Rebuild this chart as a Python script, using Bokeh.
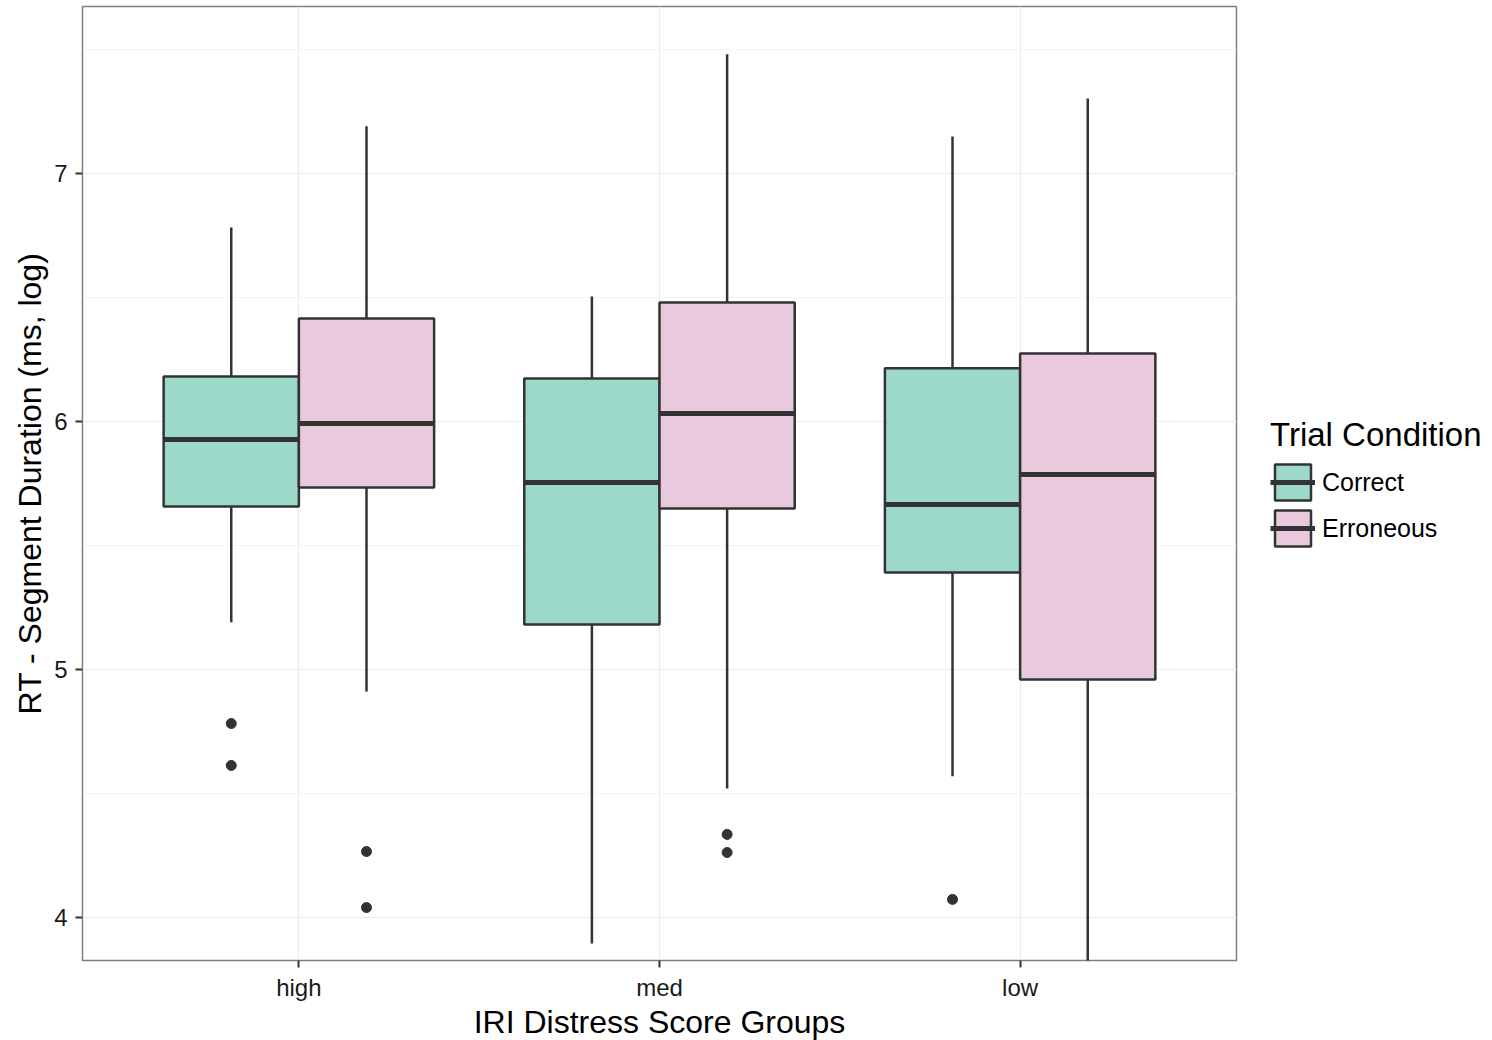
from bokeh.plotting import figure
from bokeh.models import (ColumnDataSource, FactorRange, Range1d, Legend, LegendItem,
                          SingleIntervalTicker)
from bokeh.transform import dodge
from bokeh.embed import file_html
from bokeh.resources import INLINE

groups = ["high", "med", "low"]
conditions = ["Correct", "Erroneous"]
fill_colors = ["#99d8c9", "#e8c7dc"]

# values per group (high, med, low)
correct_lower = [5.19, 3.895, 4.569]
correct_q1 = [5.657, 5.181, 5.391]
correct_median = [5.927, 5.754, 5.665]
correct_q3 = [6.181, 6.173, 6.214]
correct_upper = [6.782, 6.504, 7.149]
correct_outlier_group = ["high", "high", "low"]
correct_outlier_value = [4.782, 4.613, 4.073]

erroneous_lower = [4.911, 4.520, 3.75]
erroneous_q1 = [5.734, 5.649, 4.960]
erroneous_median = [5.992, 6.032, 5.786]
erroneous_q3 = [6.415, 6.480, 6.274]
erroneous_upper = [7.19, 7.48, 7.302]
erroneous_outlier_group = ["high", "high", "med", "med"]
erroneous_outlier_value = [4.266, 4.040, 4.335, 4.262]

y_ticks = [4, 5, 6, 7]

FONT = "Liberation Sans"
DARK = "#333333"

p = figure(x_range=FactorRange(*groups, range_padding=0.1, range_padding_units="absolute"),
           y_range=Range1d(3.8266, 7.673),
           frame_width=1154, frame_height=954,
           min_border_left=82, min_border_top=6, min_border_bottom=72, min_border_right=8,
           output_backend="svg", toolbar_location=None,
           background_fill_color="white", border_fill_color="white")

half = 0.1875
series = [
    ("Correct", -half, fill_colors[0], correct_lower, correct_q1, correct_median, correct_q3,
     correct_upper, correct_outlier_group, correct_outlier_value),
    ("Erroneous", half, fill_colors[1], erroneous_lower, erroneous_q1, erroneous_median,
     erroneous_q3, erroneous_upper, erroneous_outlier_group, erroneous_outlier_value),
]

legend_items = []
for name, off, col, lo, q1, med, q3, up, og, ov in series:
    src = ColumnDataSource(dict(g=groups, lower=lo, q1=q1, med=med, q3=q3, upper=up))
    xc = dodge("g", off, range=p.x_range)
    xl = dodge("g", off - half, range=p.x_range)
    xr = dodge("g", off + half, range=p.x_range)
    p.segment(x0=xc, y0="q3", x1=xc, y1="upper", source=src, line_color=DARK, line_width=2.5)
    p.segment(x0=xc, y0="q1", x1=xc, y1="lower", source=src, line_color=DARK, line_width=2.5)
    box = p.vbar(x=xc, width=2 * half, bottom="q1", top="q3", source=src,
                 fill_color=col, fill_alpha=0.97, line_color=DARK, line_width=2.5)
    medr = p.segment(x0=xl, y0="med", x1=xr, y1="med", source=src, line_color=DARK, line_width=5)
    osrc = ColumnDataSource(dict(g=og, v=ov))
    p.scatter(x=xc, y="v", source=osrc, size=10, color=DARK)
    legend_items.append(LegendItem(label=name, renderers=[box, medr]))

legend = Legend(items=legend_items, title="Trial Condition", location="center_left")
legend.title_text_font = FONT
legend.title_text_font_size = "33px"
legend.title_text_font_style = "normal"
legend.title_text_color = "black"
legend.title_standoff = 6
legend.label_text_font = FONT
legend.label_text_font_size = "25px"
legend.label_text_color = "black"
legend.glyph_width = 45
legend.glyph_height = 45
legend.spacing = 1
legend.label_standoff = 7
legend.border_line_color = None
legend.background_fill_alpha = 0
legend.margin = 34
legend.padding = 0
p.add_layout(legend, "right")

# grids
p.ygrid.ticker = SingleIntervalTicker(interval=1, num_minor_ticks=2)
p.yaxis.ticker = y_ticks
p.ygrid.grid_line_color = "#ebebeb"
p.ygrid.grid_line_width = 1.2
p.ygrid.minor_grid_line_color = "#f4f4f4"
p.ygrid.minor_grid_line_width = 1
p.xgrid.grid_line_color = "#ebebeb"
p.xgrid.grid_line_width = 1.2

p.outline_line_color = "#7f7f7f"
p.outline_line_width = 1.5

for ax in (p.xaxis[0], p.yaxis[0]):
    ax.axis_line_color = None
    ax.major_tick_line_color = DARK
    ax.major_tick_line_width = 2
    ax.major_tick_in = 0
    ax.major_tick_out = 7
    ax.minor_tick_line_color = None
    ax.major_label_text_font = FONT
    ax.major_label_text_font_size = "24px"
    ax.major_label_text_color = "#1a1a1a"
    ax.axis_label_text_font = FONT
    ax.axis_label_text_font_size = "32px"
    ax.axis_label_text_font_style = "normal"
    ax.axis_label_text_color = "black"

p.xaxis.axis_label = "IRI Distress Score Groups"
p.yaxis.axis_label = "RT - Segment Duration (ms, log)"
p.xaxis.major_label_standoff = 6
p.xaxis.axis_label_standoff = 0
p.yaxis.major_label_standoff = 8
p.yaxis.axis_label_standoff = 3

open("out.html", "w").write(file_html(p, INLINE))
